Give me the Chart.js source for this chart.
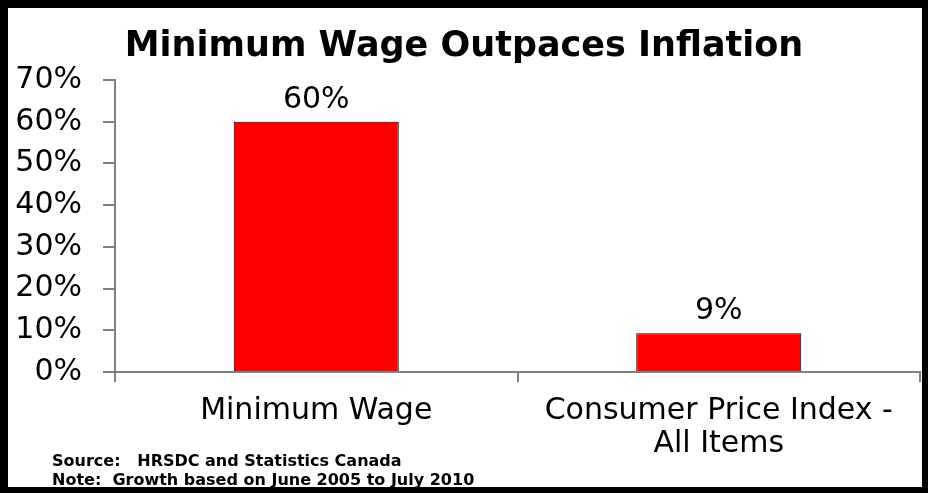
<!DOCTYPE html>
<html>
<head>
<meta charset="utf-8">
<script src="https://cdn.jsdelivr.net/npm/chart.js@4/dist/chart.umd.min.js"></script>
<style>
    html, body { margin: 0; padding: 0; background: #fff; }
    #wrap { width: 928px; height: 493px; position: relative; }
</style>
</head>
<body>
<div id="wrap"><canvas id="chart"></canvas></div>
<script>
// Chart data
var categories = ["Minimum Wage", ["Consumer Price Index -", "All Items"]];
var growthValues = [60, 9.3];
var tickValues = [0, 10, 20, 30, 40, 50, 60, 70];
var notes = ["Source:   HRSDC and Statistics Canada", "Note:  Growth based on June 2005 to July 2010"];

var fontFamily = "'DejaVu Sans', Verdana, sans-serif";

// Value labels above each bar
var valueLabels = {
    id: 'valueLabels',
    afterDatasetsDraw: function (chart) {
        var ctx = chart.ctx;
        var meta = chart.getDatasetMeta(0);
        ctx.save();
        ctx.font = '30px ' + fontFamily;
        ctx.fillStyle = '#000';
        ctx.textAlign = 'center';
        ctx.textBaseline = 'alphabetic';
        meta.data.forEach(function (bar, i) {
            ctx.fillText(Math.round(growthValues[i]) + '%', bar.x, bar.y - 14);
        });
        ctx.restore();
    }
};

// Source and note lines at the bottom left
var sourceNotes = {
    id: 'sourceNotes',
    afterDraw: function (chart) {
        var ctx = chart.ctx;
        ctx.save();
        ctx.font = 'bold 16px ' + fontFamily;
        ctx.fillStyle = '#000';
        ctx.textAlign = 'left';
        ctx.textBaseline = 'alphabetic';
        notes.forEach(function (line, i) {
            ctx.fillText(line, 52, 466 + i * 19);
        });
        ctx.restore();
    }
};

// Thick black frame round the picture
var frame = {
    id: 'frame',
    beforeDraw: function (chart) {
        var ctx = chart.ctx;
        ctx.save();
        ctx.fillStyle = '#fff';
        ctx.fillRect(0, 0, chart.width, chart.height);
        ctx.restore();
    },
    afterDraw: function (chart) {
        var ctx = chart.ctx, w = chart.width, h = chart.height;
        ctx.save();
        ctx.fillStyle = '#000';
        ctx.fillRect(0, 0, w, 8);
        ctx.fillRect(0, 0, 8, h);
        ctx.fillRect(w - 6, 0, 6, h);
        ctx.fillRect(0, h - 6, w, 6);
        ctx.restore();
    }
};

var ctx = document.getElementById('chart').getContext('2d');
var chart = new Chart(ctx, {
    type: 'bar',
    data: {
        labels: categories,
        datasets: [{
            data: growthValues,
            backgroundColor: '#ff0000',
            borderColor: '#000',
            borderWidth: 1,
            barPercentage: 0.41,
            categoryPercentage: 1
        }]
    },
    options: {
        responsive: true,
        maintainAspectRatio: false,
        animation: false,
        layout: { padding: { left: 8, right: 8, top: 6, bottom: 36 } },
        plugins: {
            legend: { display: false },
            tooltip: { enabled: false },
            title: {
                display: true,
                text: 'Minimum Wage Outpaces Inflation',
                color: '#000',
                font: { family: fontFamily, size: 35, weight: 'bold', lineHeight: 1.2 },
                padding: { top: 20, bottom: 12 }
            }
        },
        scales: {
            x: {
                grid: { display: true, drawOnChartArea: false, offset: true, tickLength: 10, color: '#808080', lineWidth: 2 },
                border: { color: '#808080', width: 2 },
                ticks: {
                    color: '#000',
                    padding: 13,
                    maxRotation: 0,
                    font: { family: fontFamily, size: 30, lineHeight: 1.1 }
                },
                afterFit: function (scale) { scale.height = 85; }
            },
            y: {
                min: 0,
                max: 70,
                afterBuildTicks: function (scale) {
                    scale.ticks = tickValues.map(function (v) { return { value: v }; });
                },
                grid: { display: true, drawOnChartArea: false, tickLength: 12, color: '#808080', lineWidth: 2 },
                border: { color: '#808080', width: 2 },
                ticks: {
                    color: '#000',
                    padding: 21,
                    font: { family: fontFamily, size: 30 },
                    callback: function (v) { return v + '%'; }
                },
                afterFit: function (scale) { scale.width = 107; }
            }
        }
    },
    plugins: [frame, valueLabels, sourceNotes]
});
</script>
</body>
</html>
